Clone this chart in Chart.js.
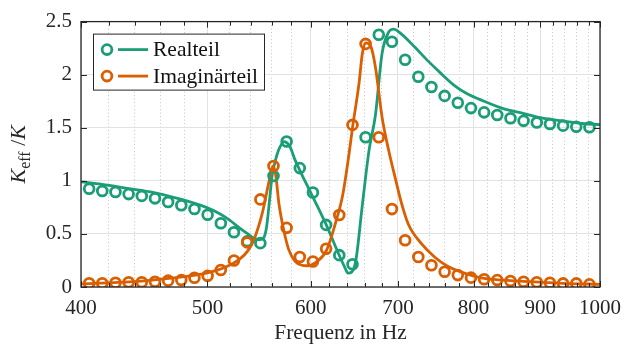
<!DOCTYPE html>
<html>
<head>
<meta charset="utf-8">
<script src="https://cdn.jsdelivr.net/npm/chart.js@4.4.1/dist/chart.umd.min.js"></script>
<style>
  html, body { margin: 0; padding: 0; background: #fff; }
  #wrap { width: 630px; height: 347px; }
</style>
</head>
<body>
<div id="wrap"><canvas id="chart" width="630" height="347"></canvas></div>
<script>
// measured points (circles), frequency in Hz
const markerFreq = [405.8, 415.3, 425.1, 435.1, 445.3, 455.8, 466.5, 477.5, 488.7, 500.2,
  512.0, 524.0, 536.4, 549.0, 561.9, 575.1, 588.6, 602.4, 616.6, 631.1,
  646.0, 661.1, 676.7, 692.6, 708.9, 725.6, 742.6, 760.1, 778.0, 796.3,
  815.0, 834.1, 853.8, 873.8, 894.4, 915.4, 936.9, 959.0, 981.5];
const realMeas = [0.925, 0.905, 0.895, 0.875, 0.858, 0.835, 0.80, 0.77, 0.735, 0.68,
  0.60, 0.516, 0.43, 0.413, 1.045, 1.37, 1.12, 0.89, 0.585, 0.30,
  0.215, 1.41, 2.376, 2.31, 2.14, 1.98, 1.884, 1.80, 1.735, 1.685,
  1.645, 1.62, 1.59, 1.565, 1.55, 1.536, 1.52, 1.51, 1.505];
const imagMeas = [0.035, 0.035, 0.04, 0.045, 0.045, 0.05, 0.06, 0.065, 0.087, 0.105,
  0.16, 0.25, 0.42, 0.825, 1.14, 0.557, 0.283, 0.24, 0.36, 0.678,
  1.527, 2.29, 1.41, 0.734, 0.44, 0.283, 0.205, 0.143, 0.112, 0.088,
  0.073, 0.065, 0.056, 0.05, 0.044, 0.04, 0.034, 0.034, 0.025];

// model curves
const realLineFreq = [400, 415, 434, 455, 476, 499, 511, 520, 530, 537, 543, 548, 552, 555,
  557.6, 560.4, 564, 567, 572.5, 578, 584, 595, 605, 617, 631, 637, 641, 645, 650, 657,
  665, 672.7, 680.6, 688.5, 694.5, 704.7, 721, 738, 755.5, 773, 791, 815, 843, 873, 904,
  936, 969, 1000];
const realLine = [0.99, 0.967, 0.93, 0.89, 0.83, 0.75, 0.69, 0.63, 0.55, 0.50, 0.46, 0.445,
  0.46, 0.56, 0.78, 1.04, 1.2, 1.29, 1.37, 1.33, 1.19, 0.98, 0.80, 0.58, 0.30, 0.19, 0.13,
  0.14, 0.26, 0.75, 1.28, 1.62, 2.2, 2.40, 2.43, 2.38, 2.26, 2.13, 2.01, 1.90, 1.82, 1.75,
  1.68, 1.635, 1.59, 1.565, 1.54, 1.53];
const imagLineFreq = [400, 445, 471, 499, 517, 529, 537, 543, 551, 557.6, 561.4, 564, 567.4,
  572.3, 577.3, 584, 590.8, 596, 606, 617, 627.5, 635, 642, 646, 653.5, 657.3, 661, 667,
  672.7, 680.6, 688.5, 696.5, 704.7, 712.8, 729.6, 746.7, 764, 782, 800.5, 815, 843, 883,
  936, 1000];
const imagLine = [0.03, 0.055, 0.085, 0.13, 0.19, 0.26, 0.34, 0.45, 0.70, 1.0, 1.14, 1.06,
  0.78, 0.53, 0.35, 0.24, 0.205, 0.20, 0.235, 0.345, 0.62, 0.87, 1.25, 1.5, 1.92, 2.2, 2.30,
  2.27, 2.07, 1.60, 1.29, 1.03, 0.78, 0.594, 0.408, 0.283, 0.196, 0.143, 0.103, 0.081,
  0.065, 0.05, 0.035, 0.025];

const xTicks = [400, 420, 440, 460, 480, 500, 520, 540, 560, 580, 600, 620, 640, 660, 680,
  700, 720, 740, 760, 780, 800, 820, 840, 860, 880, 900, 920, 940, 960, 980, 1000];
const yTicks = [0, 0.5, 1, 1.5, 2, 2.5];

const GREEN = '#1b9e77';
const ORANGE = '#d95f02';
const AXIS = '#262626';
const SERIF = '"Liberation Serif", "Times New Roman", serif';

const pairs = (xs, ys) => xs.map((x, i) => ({ x: x, y: ys[i] }));
const isMajor = v => v % 100 === 0;

// box, inward ticks on all four sides
const framePlugin = {
  id: 'frame',
  afterDraw(chart) {
    const { ctx, chartArea: a, scales } = chart;
    ctx.save();
    ctx.strokeStyle = AXIS;
    ctx.lineWidth = 1;
    ctx.beginPath();
    xTicks.forEach(v => {
      const px = Math.round(scales.x.getPixelForValue(v)) + 0.5;
      const len = isMajor(v) ? 6 : 4;
      ctx.moveTo(px, a.bottom); ctx.lineTo(px, a.bottom - len);
      ctx.moveTo(px, a.top); ctx.lineTo(px, a.top + len);
    });
    yTicks.forEach(v => {
      const py = Math.round(scales.y.getPixelForValue(v)) + 0.5;
      ctx.moveTo(a.left, py); ctx.lineTo(a.left + 6, py);
      ctx.moveTo(a.right, py); ctx.lineTo(a.right - 6, py);
    });
    ctx.stroke();
    ctx.lineWidth = 1.3;
    ctx.strokeRect(a.left, a.top, a.right - a.left, a.bottom - a.top);
    ctx.restore();
  }
};

// y label with subscript
const yLabelPlugin = {
  id: 'ylabel',
  afterDraw(chart) {
    const { ctx, chartArea: a } = chart;
    const cy = (a.top + a.bottom) / 2;
    ctx.save();
    ctx.translate(25, cy);
    ctx.rotate(-Math.PI / 2);
    ctx.fillStyle = AXIS;
    ctx.textBaseline = 'alphabetic';
    const big = 'italic 22px ' + SERIF;
    const sub = '16px ' + SERIF;
    const norm = '22px ' + SERIF;
    const parts = [
      { t: 'K', f: big, dy: 0 },
      { t: 'eff', f: sub, dy: 5 },
      { t: ' /', f: norm, dy: 0 },
      { t: 'K', f: big, dy: 0 }
    ];
    let total = 0;
    parts.forEach(p => { ctx.font = p.f; p.w = ctx.measureText(p.t).width; total += p.w; });
    let x = -total / 2;
    parts.forEach(p => {
      ctx.font = p.f;
      ctx.fillText(p.t, x, p.dy);
      x += p.w;
    });
    ctx.restore();
  }
};

// legend: marker + line per entry
const legendPlugin = {
  id: 'boxLegend',
  afterDraw(chart) {
    const { ctx, chartArea: a } = chart;
    const bx = a.left + 12.5, by = a.top + 12.5, bw = 171, bh = 56;
    ctx.save();
    ctx.fillStyle = '#fff';
    ctx.fillRect(bx, by, bw, bh);
    ctx.strokeStyle = AXIS;
    ctx.lineWidth = 1;
    ctx.strokeRect(bx, by, bw, bh);
    const rows = [
      { label: 'Realteil', color: GREEN, y: by + 15.5 },
      { label: 'Imaginärteil', color: ORANGE, y: by + 42 }
    ];
    rows.forEach(r => {
      ctx.strokeStyle = r.color;
      ctx.lineWidth = 2.8;
      ctx.beginPath();
      ctx.arc(bx + 13.5, r.y, 4.9, 0, Math.PI * 2);
      ctx.stroke();
      ctx.beginPath();
      ctx.moveTo(bx + 24.5, r.y);
      ctx.lineTo(bx + 54.5, r.y);
      ctx.stroke();
      ctx.fillStyle = '#111';
      ctx.font = '21.5px ' + SERIF;
      ctx.textBaseline = 'middle';
      ctx.fillText(r.label, bx + 59.5, r.y + 1);
    });
    ctx.restore();
  }
};

const markerStyle = color => ({
  showLine: false,
  pointStyle: 'circle',
  pointRadius: 4.9,
  pointHoverRadius: 4.9,
  pointBorderWidth: 2.8,
  pointBorderColor: color,
  pointBackgroundColor: 'rgba(0,0,0,0)',
  borderColor: color
});
const lineStyle = color => ({
  showLine: true,
  pointRadius: 0,
  borderColor: color,
  borderWidth: 2.8,
  cubicInterpolationMode: 'monotone',
  fill: false
});

new Chart(document.getElementById('chart'), {
  type: 'scatter',
  data: {
    datasets: [
      Object.assign({ label: 'Imaginärteil', data: pairs(markerFreq, imagMeas), order: 0 }, markerStyle(ORANGE)),
      Object.assign({ label: 'Realteil', data: pairs(markerFreq, realMeas), order: 1 }, markerStyle(GREEN)),
      Object.assign({ label: 'Imaginärteil Modell', data: pairs(imagLineFreq, imagLine), order: 2 }, lineStyle(ORANGE)),
      Object.assign({ label: 'Realteil Modell', data: pairs(realLineFreq, realLine), order: 3 }, lineStyle(GREEN))
    ]
  },
  options: {
    responsive: false,
    animation: false,
    devicePixelRatio: 1,
    layout: { padding: { top: 19, right: 22, left: 0, bottom: 0 } },
    plugins: {
      legend: { display: false },
      tooltip: { enabled: false }
    },
    scales: {
      x: {
        type: 'logarithmic',
        min: 400,
        max: 1000,
        afterBuildTicks: scale => {
          scale.ticks = xTicks.map(v => ({ value: v, major: isMajor(v) }));
        },
        afterFit: scale => { scale.height = 60; },
        ticks: {
          autoSkip: false,
          maxRotation: 0,
          padding: 9,
          color: AXIS,
          font: { family: SERIF, size: 21 },
          callback: v => isMajor(v) ? String(v) : ''
        },
        grid: {
          drawTicks: false,
          lineWidth: 1,
          color: ctx => (ctx.tick && isMajor(ctx.tick.value)) ? '#e2e2e2' : '#c4c4c4'
        },
        border: {
          display: false,
          dash: ctx => (ctx.tick && !isMajor(ctx.tick.value)) ? [1, 2.5] : []
        },
        title: {
          display: true,
          text: 'Frequenz in Hz',
          color: AXIS,
          font: { family: SERIF, size: 21.5 },
          padding: { top: 0, bottom: 1 }
        }
      },
      y: {
        min: 0,
        max: 2.5,
        afterBuildTicks: scale => {
          scale.ticks = yTicks.map(v => ({ value: v }));
        },
        afterFit: scale => { scale.width = 81; },
        ticks: {
          padding: 9,
          color: AXIS,
          font: { family: SERIF, size: 21 },
          callback: v => String(v)
        },
        grid: {
          drawTicks: false,
          lineWidth: 1,
          color: '#e2e2e2'
        },
        border: { display: false }
      }
    }
  },
  plugins: [framePlugin, yLabelPlugin, legendPlugin]
});
</script>
</body>
</html>
